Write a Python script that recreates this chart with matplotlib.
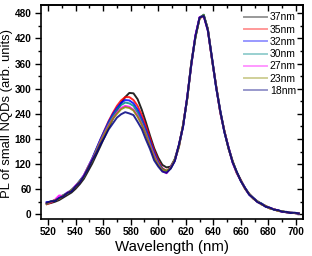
import numpy as np
import matplotlib.pyplot as plt
from matplotlib.ticker import MultipleLocator

plt.rcParams['font.family'] = ['Liberation Sans', 'DejaVu Sans']

# wavelength grid (nm), 3 nm steps
wavelength = np.arange(519, 703, 3)

labels = ["37nm", "35nm", "32nm", "30nm", "27nm", "23nm", "18nm"]
colors = ["black", "red", "blue", "#008b8b", "magenta", "#8b8b00", "#000080"]

pl_37 = [25, 27, 30, 34, 40, 46, 52, 61, 72, 85, 103, 121, 142, 163, 185, 207, 228, 248, 266, 280,
         290, 289, 275, 250, 220, 188, 158, 135, 118, 112, 114, 132, 166, 212, 276, 357, 424, 470, 476, 443,
         374, 307, 248, 199, 160, 127, 101, 81, 63, 49, 39, 31, 25, 20, 15, 12, 9, 7, 5, 4, 3, 2]
pl_35 = [24, 28, 33, 37, 44, 50, 57, 66, 77, 92, 111, 131, 155, 178, 201, 223, 242, 259, 272, 280,
         280, 273, 259, 237, 211, 182, 152, 128, 110, 104, 111, 129, 163, 213, 276, 362, 425, 468, 474, 442,
         370, 306, 244, 199, 157, 126, 99, 81, 61, 48, 38, 30, 25, 19, 14, 12, 8, 7, 5, 3, 3, 2]
pl_32 = [29, 30, 34, 39, 45, 52, 57, 67, 80, 93, 113, 133, 156, 179, 200, 221, 239, 254, 266, 273,
         272, 265, 250, 228, 203, 175, 147, 124, 108, 102, 110, 128, 164, 210, 278, 360, 427, 470, 475, 441,
         371, 303, 247, 196, 159, 124, 100, 80, 62, 47, 38, 31, 24, 19, 15, 12, 9, 6, 5, 4, 3, 2]
pl_30 = [25, 31, 33, 38, 46, 50, 59, 68, 80, 92, 112, 132, 154, 176, 197, 217, 234, 249, 261, 267,
         265, 259, 243, 222, 197, 170, 143, 122, 107, 103, 111, 130, 162, 212, 277, 361, 424, 469, 477, 440,
         372, 305, 245, 198, 158, 125, 100, 79, 63, 48, 39, 30, 26, 18, 15, 11, 9, 7, 5, 4, 3, 2]
pl_27 = [27, 29, 35, 45, 44, 52, 57, 69, 78, 93, 113, 131, 151, 174, 194, 213, 229, 243, 254, 259,
         257, 250, 236, 216, 192, 166, 140, 119, 104, 98, 112, 129, 163, 211, 280, 358, 428, 471, 473, 438,
         371, 306, 243, 198, 160, 123, 98, 80, 62, 48, 38, 30, 24, 19, 15, 12, 9, 6, 5, 4, 3, 2]
pl_23 = [26, 30, 34, 37, 45, 50, 58, 66, 79, 89, 112, 127, 150, 172, 192, 210, 228, 240, 251, 256,
         254, 248, 233, 214, 190, 163, 137, 118, 106, 104, 110, 131, 160, 214, 275, 362, 422, 468, 476, 441,
         370, 307, 244, 199, 157, 126, 99, 81, 61, 49, 37, 31, 23, 20, 14, 12, 8, 7, 5, 4, 3, 2]
pl_18 = [28, 31, 32, 39, 43, 51, 55, 67, 76, 91, 109, 129, 146, 167, 184, 203, 217, 231, 239, 244,
         241, 237, 221, 204, 179, 156, 129, 114, 102, 99, 109, 127, 166, 209, 279, 359, 426, 470, 474, 439,
         373, 304, 246, 197, 159, 124, 101, 79, 63, 47, 39, 29, 25, 18, 16, 11, 10, 6, 6, 3, 4, 2]

spectra = [pl_37, pl_35, pl_32, pl_30, pl_27, pl_23, pl_18]

fig = plt.figure(figsize=(3.12, 2.56), dpi=100)
ax = fig.add_axes([40.5 / 312, 1 - 218.5 / 256, 262.8 / 312, 213.5 / 256])

for y, c, lab in zip(spectra, colors, labels):
    ax.plot(wavelength, y, color=c, lw=1.4, alpha=0.85, label=lab)

ax.set_xlim(514.5, 705.3)
ax.set_ylim(-10, 500)

# outward ticks on left/bottom, inward ticks on top/right (no labels)
top = ax.secondary_xaxis("top")
right = ax.secondary_yaxis("right")
for a in (ax.xaxis, top.xaxis):
    a.set_major_locator(MultipleLocator(20))
    a.set_minor_locator(MultipleLocator(10))
for a in (ax.yaxis, right.yaxis):
    a.set_major_locator(MultipleLocator(60))
    a.set_minor_locator(MultipleLocator(30))
ax.tick_params(which="both", direction="out", width=1.0)
ax.tick_params(which="major", length=4.2)
ax.tick_params(which="minor", length=2.3)
ax.tick_params(axis="x", pad=2)
ax.tick_params(axis="y", pad=2.2)
for sec in (top, right):
    sec.tick_params(which="both", direction="in", width=1.0, labeltop=False, labelright=False)
    sec.tick_params(which="major", length=4.2)
    sec.tick_params(which="minor", length=2.3)
top.spines["top"].set_linewidth(1.2)
right.spines["right"].set_linewidth(1.2)

for lbl in ax.get_xticklabels() + ax.get_yticklabels():
    lbl.set_fontweight("bold")
    lbl.set_fontsize(7.2)
for s in ax.spines.values():
    s.set_linewidth(1.2)

ax.set_xlabel("Wavelength (nm)", fontsize=10.8)
ax.set_ylabel("PL of small NQDs (arb. units)", fontsize=9.4)
ax.xaxis.set_label_coords(0.5, -0.10)
ax.yaxis.set_label_coords(-0.106, 0.49)

leg = ax.legend(loc="upper right", frameon=False, fontsize=7.5, handlelength=2.2,
                handletextpad=0.3, labelspacing=0.22, borderaxespad=0.3)
for h in leg.legend_handles:
    h.set_alpha(0.4)

fig.savefig("out.png", dpi=100)
